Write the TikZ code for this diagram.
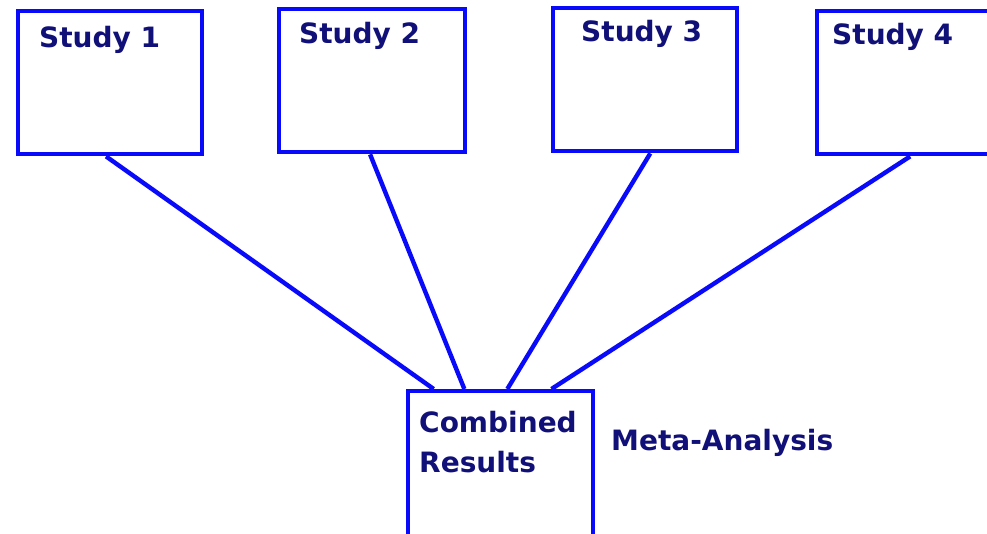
\documentclass[tikz,border=0pt]{standalone}
\usepackage{fontspec}
\setmainfont{DejaVu Sans}
\usetikzlibrary{calc}
\definecolor{boxblue}{RGB}{10,10,250}
\definecolor{navy}{RGB}{16,16,120}
\tikzset{
  studybox/.style={draw=boxblue, line width=4.4pt, minimum width=184pt, minimum height=143pt, inner sep=0pt, anchor=north west},
  lbl/.style={text=navy, font=\fontsize{28}{30}\selectfont\bfseries, inner sep=0pt, anchor=base west},
  link/.style={draw=boxblue, line width=4.4pt}
}
\begin{document}
\begin{tikzpicture}[x=1pt,y=-1pt]
\useasboundingbox[fill=white] (0,0) rectangle (987,533);
\node[studybox] (s1) at (16,9) {};
\node[studybox, minimum width=186pt] (s2) at (277,7) {};
\node[studybox] (s3) at (551,6) {};
\node[studybox, minimum width=187pt] (s4) at (815,9) {};
\node[studybox, minimum width=185pt, minimum height=160pt] (c) at (406,389) {};
\node[lbl] (t1) at (39,47) {Study 1};
\node[lbl] (t2) at (299,43) {Study 2};
\node[lbl] (t3) at (581,41) {Study 3};
\node[lbl] (t4) at (832,44) {Study 4};
\node[lbl] (tc1) at (419,432) {Combined};
\node[lbl] (tc2) at (419,472) {Results};
\node[lbl] (tm) at (611,450) {Meta-Analysis};
\draw[link] ($(s1.south west)!0.478!(s1.south east)$) -- ($(c.north west)!0.146!(c.north east)$);
\draw[link] ($(s2.south west)!0.489!(s2.south east)$) -- ($(c.north west)!0.308!(c.north east)$);
\draw[link] ($(s3.south west)!0.527!(s3.south east)$) -- ($(c.north west)!0.535!(c.north east)$);
\draw[link] ($(s4.south west)!0.497!(s4.south east)$) -- ($(c.north west)!0.768!(c.north east)$);
\end{tikzpicture}
\end{document}
